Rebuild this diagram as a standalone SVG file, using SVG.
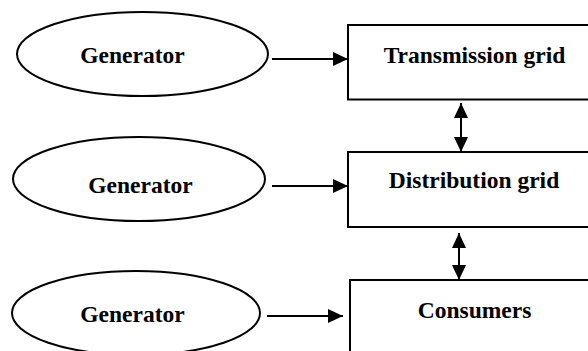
<svg xmlns="http://www.w3.org/2000/svg" width="588" height="351" viewBox="0 0 588 351">
  <style>
    .shape { fill: #ffffff; stroke: #000000; stroke-width: 2; }
    .label { font-family: "Liberation Serif", "Times New Roman", serif; font-weight: bold; font-size: 23.5px; fill: #000000; text-anchor: middle; }
    .link { fill: none; stroke: #000000; stroke-width: 2; }
  </style>
  <defs>
    <marker id="head" viewBox="0 0 15 14" refX="15" refY="7" markerWidth="15" markerHeight="14" markerUnits="userSpaceOnUse" orient="auto-start-reverse">
      <path d="M0,0 L15,7 L0,14 Z" fill="#000000"/>
    </marker>
  </defs>
  <rect width="588" height="351" fill="#ffffff"/>

  <g id="generator-1">
    <ellipse class="shape" cx="142.5" cy="54" rx="125.5" ry="42"/>
    <text class="label" x="132.5" y="63">Generator</text>
  </g>
  <g id="generator-2">
    <ellipse class="shape" cx="139" cy="179" rx="126" ry="42"/>
    <text class="label" x="140.5" y="193">Generator</text>
  </g>
  <g id="generator-3">
    <ellipse class="shape" cx="136" cy="313" rx="124" ry="42"/>
    <text class="label" x="132.5" y="322">Generator</text>
  </g>

  <g id="transmission-grid">
    <rect class="shape" x="348" y="25" width="260" height="74.5"/>
    <text class="label" x="474.5" y="63">Transmission grid</text>
  </g>
  <g id="distribution-grid">
    <rect class="shape" x="348" y="152" width="260" height="75"/>
    <text class="label" x="474" y="188">Distribution grid</text>
  </g>
  <g id="consumers">
    <rect class="shape" x="350" y="280" width="260" height="90"/>
    <text class="label" x="474.5" y="318">Consumers</text>
  </g>

  <g id="connectors">
    <line class="link" x1="272" y1="59" x2="348" y2="59" marker-end="url(#head)"/>
    <line class="link" x1="272" y1="186" x2="348" y2="186" marker-end="url(#head)"/>
    <line class="link" x1="267" y1="316" x2="343" y2="316" marker-end="url(#head)"/>
    <line class="link" x1="461" y1="103" x2="461" y2="152" marker-start="url(#head)" marker-end="url(#head)"/>
    <line class="link" x1="459" y1="233" x2="459" y2="280" marker-start="url(#head)" marker-end="url(#head)"/>
  </g>
</svg>
